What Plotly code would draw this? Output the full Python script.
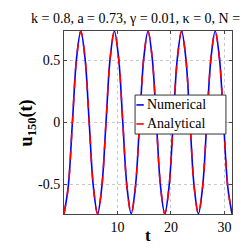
import plotly.graph_objects as go

t_values = [0, 0.785, 1.571, 2.356, 3.142, 3.927, 4.712, 5.498, 6.283,
            7.069, 7.854, 8.639, 9.425, 10.21, 10.996, 11.781, 12.566,
            13.352, 14.137, 14.923, 15.708, 16.493, 17.279, 18.064, 18.85,
            19.635, 20.42, 21.206, 21.991, 22.777, 23.562, 24.347, 25.133,
            25.918, 26.704, 27.489, 28.274, 29.06, 29.845, 30.631, 31.416]

u_numerical = [-0.735, -0.52, 0, 0.52, 0.735, 0.52, 0, -0.52,
               -0.735, -0.52, 0, 0.52, 0.735, 0.52, 0, -0.52,
               -0.735, -0.52, 0, 0.52, 0.735, 0.52, 0, -0.52,
               -0.735, -0.52, 0, 0.52, 0.735, 0.52, 0, -0.52,
               -0.735, -0.52, 0, 0.52, 0.735, 0.52, 0, -0.52,
               -0.735]

u_analytical = [-0.735, -0.52, 0, 0.52, 0.735, 0.52, 0, -0.52,
                -0.735, -0.52, 0, 0.52, 0.735, 0.52, 0, -0.52,
                -0.735, -0.52, 0, 0.52, 0.735, 0.52, 0, -0.52,
                -0.735, -0.52, 0, 0.52, 0.735, 0.52, 0, -0.52,
                -0.735, -0.52, 0, 0.52, 0.735, 0.52, 0, -0.52,
                -0.735]

x_ticks = [10, 20, 30]
y_ticks = [-0.5, 0, 0.5]
y_tick_labels = ["-0.5", "0", "0.5"]
series_names = ["Numerical", "Analytical"]
series_colors = ["#0000ff", "#ff0000"]
series_dash = ["solid", "dash"]
title_text = "k = 0.8, a = 0.73, γ = 0.01, κ = 0, N = 301"

FONT = "Liberation Serif"

fig = go.Figure()
for name, vals, col, dsh in zip(series_names, [u_numerical, u_analytical], series_colors, series_dash):
    fig.add_trace(go.Scatter(x=t_values, y=vals, mode="lines", name=name,
                             line=dict(color=col, width=1.6, dash=dsh, shape="spline")))

axis_common = dict(
    showline=True, linecolor="#444444", linewidth=1, mirror="ticks",
    ticks="inside", ticklen=3, tickcolor="#444444",
    showgrid=True, gridcolor="#c8c8c8", griddash="dot", gridwidth=1,
    zeroline=False, tickfont=dict(family=FONT, size=14, color="black"),
)

fig.update_layout(
    width=249, height=249,
    margin=dict(l=56, r=25, t=23, b=43),
    plot_bgcolor="white",
    showlegend=False,
    xaxis=dict(range=[0, 31.416], tickvals=x_ticks, **axis_common),
    yaxis=dict(range=[-0.737, 0.737], tickvals=y_ticks, ticktext=y_tick_labels, **axis_common),
)

# title
fig.add_annotation(text=title_text, x=0.5, y=1, xref="paper", yref="paper",
                   xanchor="center", yanchor="bottom", yshift=3, showarrow=False,
                   font=dict(family=FONT, size=14, color="black"))
# axis titles
fig.add_annotation(text="<b>t</b>", x=0.5, y=-0.12, xref="paper", yref="paper",
                   xanchor="center", yanchor="middle", showarrow=False,
                   font=dict(family=FONT, size=17, color="black"))
fig.add_annotation(text="<b>u<sub>150</sub>(t)</b>", x=-0.215, y=0.5, xref="paper", yref="paper",
                   xanchor="center", yanchor="middle", textangle=-90, showarrow=False,
                   font=dict(family=FONT, size=18, color="black"))

# legend box drawn in paper coordinates
leg_x0, leg_x1, leg_y0, leg_y1 = 0.423, 0.964, 0.437, 0.650
fig.add_shape(type="rect", xref="paper", yref="paper", x0=leg_x0, x1=leg_x1, y0=leg_y0, y1=leg_y1,
              line=dict(color="#333333", width=1), fillcolor="white", layer="above")
row_y = [0.596, 0.492]
for name, col, dsh, ry in zip(series_names, series_colors, series_dash, row_y):
    fig.add_shape(type="line", xref="paper", yref="paper", x0=leg_x0 + 0.008, x1=leg_x0 + 0.052,
                  y0=ry, y1=ry, line=dict(color=col, width=1.6, dash=dsh), layer="above")
    fig.add_annotation(text=name, x=leg_x0 + 0.058, y=ry, xref="paper", yref="paper",
                       xanchor="left", yanchor="middle", showarrow=False,
                       font=dict(family=FONT, size=14, color="black"))

fig.write_html("out.html")
